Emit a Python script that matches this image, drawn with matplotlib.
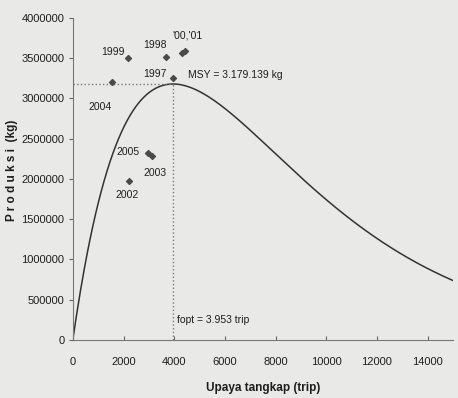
import numpy as np
import matplotlib.pyplot as plt
from matplotlib.ticker import FuncFormatter

# Fox surplus production model parameters
fopt = 3953          # trip
msy = 3179139        # kg

# observed effort (trip) and catch (kg) per year
years = ['1997', '1998', '1999', '2000', '2001', '2002', '2003', '2004', '2005']
effort = [3950, 3670, 2170, 4300, 4420, 2210, 3110, 1540, 2960]
catch = [3250000, 3510000, 3500000, 3570000, 3590000, 1970000, 2290000, 3200000, 2320000]

xticks = [0, 2000, 4000, 6000, 8000, 10000, 12000, 14000]
yticks = [0, 500000, 1000000, 1500000, 2000000, 2500000, 3000000, 3500000, 4000000]

# C = f * exp(c - d f), peak at f = 1/d with C = msy
d = 1.0 / fopt
c = 1 + np.log(msy / fopt)
f = np.linspace(0, 15000, 400)
y = f * np.exp(c - d * f)

plt.rcParams['font.family'] = ['Liberation Sans', 'DejaVu Sans']
plt.rcParams['text.color'] = '#1e1e1e'

bg = '#e9e9e7'
fig = plt.figure(figsize=(4.58, 3.98), dpi=100, facecolor=bg)
ax = fig.add_axes([0.159, 0.146, 0.830, 0.809], facecolor=bg)

ax.plot(f, y, color='#333333', lw=1.1)
ax.scatter(effort, catch, marker='D', s=9, color='#4a4a4a', zorder=3)

# reference lines at MSY and fopt
ax.plot([0, fopt], [msy, msy], ls=':', color='#777777', lw=1)
ax.plot([fopt, fopt], [0, msy], ls=':', color='#777777', lw=1)

fs = 7.5
ax.text(1580, 3580000, '1999', fontsize=fs, ha='center', va='center')
ax.text(3240, 3660000, '1998', fontsize=fs, ha='center', va='center')
ax.text(4540, 3780000, "'00,'01", fontsize=fs, ha='center', va='center')
ax.text(3240, 3300000, '1997', fontsize=fs, ha='center', va='center')
ax.text(4540, 3290000, 'MSY = 3.179.139 kg', fontsize=fs, ha='left', va='center')
ax.text(1070, 2890000, '2004', fontsize=fs, ha='center', va='center')
ax.text(2170, 2340000, '2005', fontsize=fs, ha='center', va='center')
ax.text(3240, 2070000, '2003', fontsize=fs, ha='center', va='center')
ax.text(2130, 1800000, '2002', fontsize=fs, ha='center', va='center')
ax.text(4100, 250000, 'fopt = 3.953 trip', fontsize=fs, ha='left', va='center')

ax.set_xlim(0, 15000)
ax.set_ylim(0, 4000000)
ax.set_xticks(xticks)
ax.set_yticks(yticks)
ax.yaxis.set_major_formatter(FuncFormatter(lambda v, p: '%d' % v))
ax.tick_params(axis='x', direction='in', length=3, labelsize=8, pad=12,
               color='#666666', labelcolor='#1e1e1e')
ax.tick_params(axis='y', direction='out', length=3, labelsize=8, pad=3,
               color='#666666', labelcolor='#1e1e1e')
for s in ['top', 'right']:
    ax.spines[s].set_visible(False)
for s in ['left', 'bottom']:
    ax.spines[s].set_color('#777777')
    ax.spines[s].set_linewidth(0.8)

fig.text(0.574, 0.026, 'Upaya tangkap (trip)', fontsize=8.5, fontweight='bold',
         ha='center', va='center')
fig.text(0.027, 0.573, 'P r o d u k s i  (kg)', fontsize=8.5, fontweight='bold',
         rotation=90, ha='center', va='center')

fig.savefig('out.png', dpi=100, facecolor=bg)
